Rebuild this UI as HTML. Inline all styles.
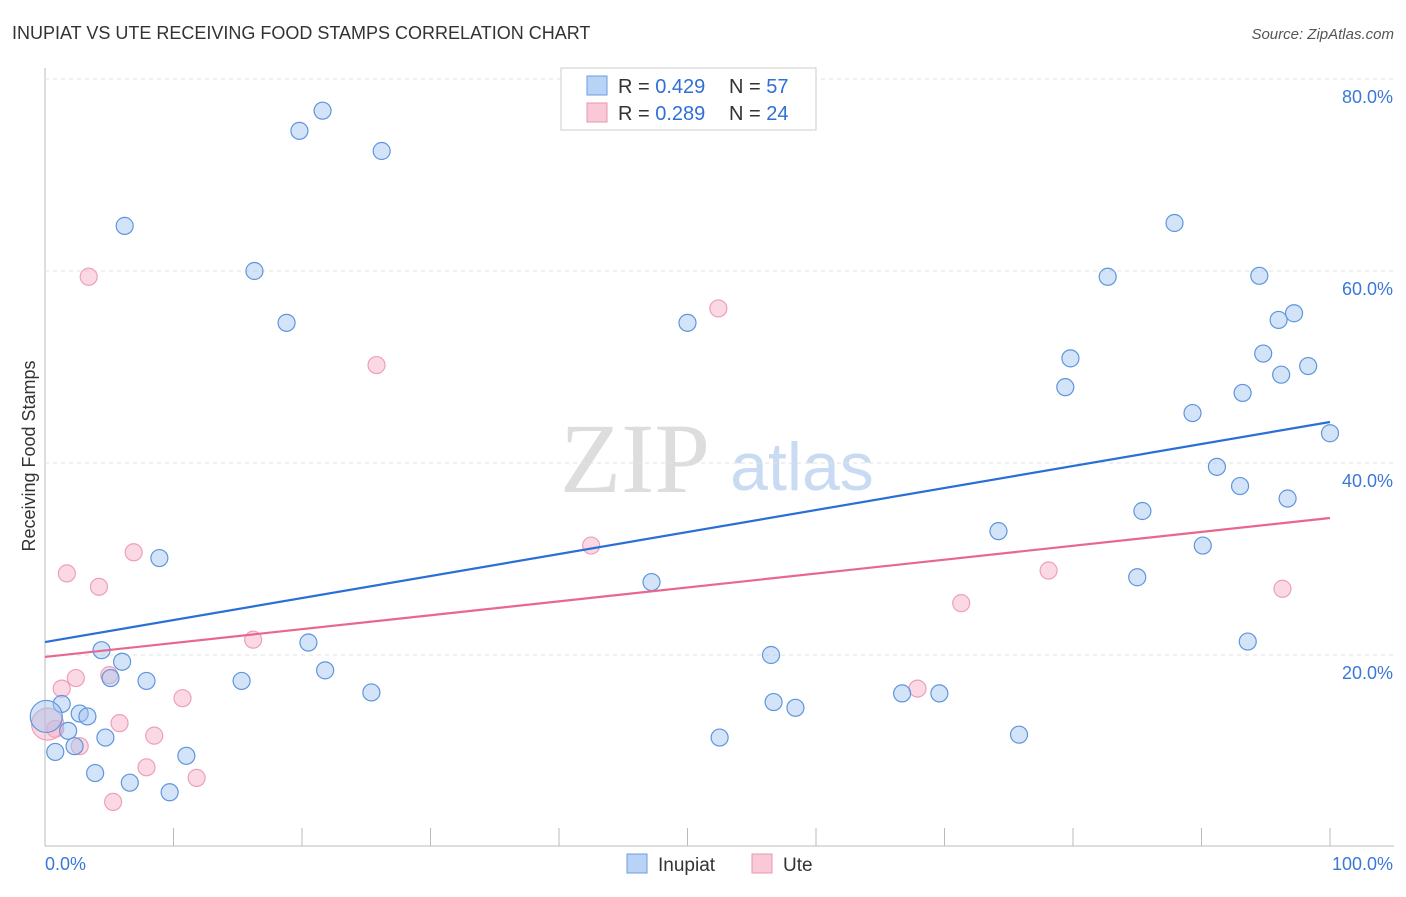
<!DOCTYPE html>
<html><head><meta charset="utf-8"><style>
body{margin:0;background:#fff;font-family:"Liberation Sans",sans-serif;}
svg text{font-family:"Liberation Sans",sans-serif;}
svg text.serif{font-family:"Liberation Serif",serif;}
</style></head><body>
<svg id="c" width="1406" height="892">
<text x="12" y="39" font-size="18" fill="#333">INUPIAT VS UTE RECEIVING FOOD STAMPS CORRELATION CHART</text>
<text x="1394" y="39" font-size="15" fill="#555" font-style="italic" text-anchor="end">Source: ZipAtlas.com</text>
<text x="35" y="456" font-size="18" fill="#333" transform="rotate(-90 35 456)" text-anchor="middle">Receiving Food Stamps</text>
<text class="serif" x="635" y="492" font-size="100" fill="#ddd" text-anchor="middle">ZIP</text>
<text x="802" y="490" font-size="68" fill="#c9dbf3" text-anchor="middle">atlas</text>
<g id="grid"></g><g id="pts"></g><g id="lines"></g>
<g>
<rect x="561" y="68" width="255" height="62" fill="#fff" stroke="#ccc"/>
<rect x="587" y="76" width="20" height="19" fill="#b8d3f5" stroke="#6a9ee0"/>
<rect x="587" y="103" width="20" height="19" fill="#f9c9d7" stroke="#e995ad"/>
<text x="618" y="93" font-size="20" fill="#333">R = <tspan fill="#2f6fd6">0.429</tspan></text>
<text x="729" y="93" font-size="20" fill="#333">N = <tspan fill="#2f6fd6">57</tspan></text>
<text x="618" y="120" font-size="20" fill="#333">R = <tspan fill="#2f6fd6">0.289</tspan></text>
<text x="729" y="120" font-size="20" fill="#333">N = <tspan fill="#2f6fd6">24</tspan></text>
</g>
<g>
<rect x="627" y="854" width="20" height="19" fill="#b8d3f5" stroke="#6a9ee0"/>
<text x="658" y="871" font-size="19" fill="#333">Inupiat</text>
<rect x="752" y="854" width="20" height="19" fill="#f9c9d7" stroke="#e995ad"/>
<text x="783" y="871" font-size="19" fill="#333">Ute</text>
</g>
</svg>
<script>
const yTicks=[20,40,60,80];
const xTickLabels=["0.0%","100.0%"];
const blueX=[21.6,19.8,26.2,6.2,16.3,18.8,8.9,4.4,6.0,5.1,7.9,15.3,20.5,21.8,25.4,1.3,2.7,3.3,1.8,4.7,2.3,0.8,11.0,3.9,6.6,9.7,0.1,50.0,47.2,56.5,52.5,56.7,58.4,66.7,69.6,75.8,74.2,82.7,87.9,94.5,79.8,79.4,96.0,97.2,94.8,96.2,98.3,93.2,89.3,100,91.2,93.0,96.7,85.4,90.1,85.0,93.6];
const blueY=[76.7,74.6,72.5,64.7,60.0,54.6,30.1,20.5,19.3,17.6,17.3,17.3,21.3,18.4,16.1,14.9,13.9,13.6,12.1,11.4,10.5,9.9,9.5,7.7,6.7,5.7,13.6,54.6,27.6,20.0,11.4,15.1,14.5,16.0,16.0,11.7,32.9,59.4,65.0,59.5,50.9,47.9,54.9,55.6,51.4,49.2,50.1,47.3,45.2,43.1,39.6,37.6,36.3,35.0,31.4,28.1,21.4];
const blueBig=[26];
const pinkX=[3.4,25.8,52.4,6.9,1.7,4.2,42.5,16.2,78.1,71.3,96.3,67.9,10.7,5.0,2.4,1.3,5.8,8.5,2.7,0.8,7.9,11.8,5.3,0.2];
const pinkY=[59.4,50.2,56.1,30.7,28.5,27.1,31.4,21.6,28.8,25.4,26.9,16.5,15.5,17.9,17.6,16.5,12.9,11.6,10.5,12.3,8.3,7.2,4.7,12.8];
const pinkBig=[23];
const blueLine=[21.35,44.27];
const pinkLine=[19.8,34.27];
const NS="http://www.w3.org/2000/svg";
const X=v=>45+v*12.85, Y=v=>847-v*9.6;
function mk(t,a,p){const e=document.createElementNS(NS,t);for(const k in a)e.setAttribute(k,a[k]);p.appendChild(e);return e;}
const g=document.getElementById('grid');
mk('line',{x1:45,y1:846,x2:1394,y2:846,stroke:'#bbb'},g);
mk('line',{x1:45,y1:68,x2:45,y2:846,stroke:'#bbb'},g);
for(let i=1;i<=10;i++){const l=mk('line',{x1:45+i*128.5,y1:828,x2:45+i*128.5,y2:846,stroke:'#bbb'},g);

}
mk('line',{x1:45,y1:Y(80),x2:1394,y2:Y(80),stroke:'#ddd','stroke-dasharray':'4 4'},g);
yTicks.forEach(t=>{const l=mk('line',{x1:45,y1:Y(t),x2:1394,y2:Y(t),stroke:'#e2e2e2','stroke-dasharray':'4 4'},g);


const tx=mk('text',{x:1393,y:Y(t)+24,'font-size':18,fill:'#3a78d8','text-anchor':'end'},g);tx.textContent=t.toFixed(1)+'%';

});
xTickLabels.forEach((s,i)=>{const tx=mk('text',{x:i?1393:45,y:870,'font-size':18,fill:'#3a78d8','text-anchor':i?'end':'start'},g);tx.textContent=s;

});
const p=document.getElementById('pts');
pinkX.forEach((v,i)=>{const c=mk('circle',{cx:X(v),cy:Y(pinkY[i]),r:pinkBig.includes(i)?16:8.5,fill:'rgba(246,170,195,0.45)',stroke:'#eea0b8','stroke-width':1.2},p);

});
blueX.forEach((v,i)=>{const c=mk('circle',{cx:X(v),cy:Y(blueY[i]),r:blueBig.includes(i)?16:8.5,fill:'rgba(160,195,240,0.45)',stroke:'#5f95dd','stroke-width':1.2},p);

});
const L=document.getElementById('lines');
const b=mk('line',{x1:X(0),y1:Y(blueLine[0]),x2:X(100),y2:Y(blueLine[1]),stroke:'#2a6fd6','stroke-width':2.2},L);


const q=mk('line',{x1:X(0),y1:Y(pinkLine[0]),x2:X(100),y2:Y(pinkLine[1]),stroke:'#e8678f','stroke-width':2.2},L);


</script>
</body></html>
